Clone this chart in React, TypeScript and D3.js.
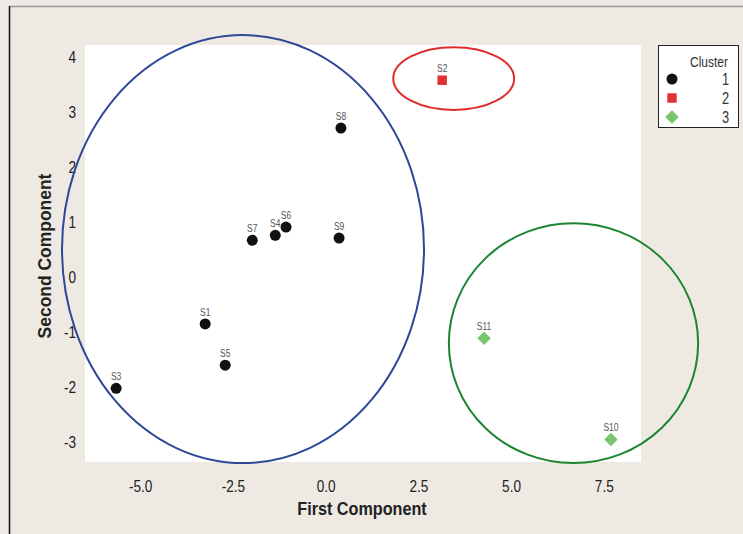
import React, { useEffect, useRef } from 'react'
import * as d3 from 'd3'

// observations (first component, second component, cluster)
const names = ['S1', 'S2', 'S3', 'S4', 'S5', 'S6', 'S7', 'S8', 'S9', 'S10', 'S11']
const firstComp = [-3.26, 3.13, -5.66, -1.37, -2.72, -1.08, -1.99, 0.4, 0.35, 7.68, 4.26]
const secondComp = [-0.85, 3.58, -2.02, 0.76, -1.6, 0.91, 0.67, 2.71, 0.71, -2.95, -1.11]
const cluster = [1, 2, 1, 1, 1, 1, 1, 1, 1, 3, 3]

// cluster ellipses: centre x, centre y, radius x, radius y (data units)
const ellipseCx = [-2.24, 3.44, 6.67]
const ellipseCy = [0.51, 3.61, -1.2]
const ellipseRx = [4.88, 1.63, 3.36]
const ellipseRy = [3.89, 0.57, 2.18]

const xTicks = [-5, -2.5, 0, 2.5, 5, 7.5]
const yTicks = [-3, -2, -1, 0, 1, 2, 3, 4]
const clusters = [1, 2, 3]

const W = 743
const H = 534
const font = "'Liberation Sans', Arial, sans-serif"

export default function App() {
  const ref = useRef<SVGSVGElement>(null)

  useEffect(() => {
    const svg = d3.select(ref.current)
    svg.selectAll('*').remove()

    const left = 85, right = 641, top = 45, bottom = 462

    const x = d3.scaleLinear().domain([-6.5, 8.49]).range([left, right])
    const y = d3.scaleLinear().domain([-3.36, 4.22]).range([bottom, top])

    // narrow text: squeeze horizontally
    function narrow(g: any, tx: number, ty: number, s: string, size: number, anchor: string, opts: any = {}) {
      return g.append('text')
        .attr('transform', 'translate(' + tx + ',' + ty + ')' + (opts.rotate ? ' rotate(-90)' : '') + ' scale(' + (opts.sx || 0.8) + ',1)')
        .attr('text-anchor', anchor)
        .attr('font-family', font)
        .attr('font-size', size)
        .attr('font-weight', opts.bold ? 'bold' : 'normal')
        .attr('fill', opts.fill || '#222')
        .text(s)
    }

    svg.append('rect').attr('width', W).attr('height', H).attr('fill', '#eeeae3')
    svg.append('line').attr('x1', 9).attr('x2', W).attr('y1', 6.5).attr('y2', 6.5)
      .attr('stroke', '#9a9a9a').attr('stroke-width', 1.5)
    svg.append('line').attr('x1', 9.5).attr('x2', 9.5).attr('y1', 6).attr('y2', H)
      .attr('stroke', '#111').attr('stroke-width', 1.5)

    svg.append('rect').attr('x', left).attr('y', top)
      .attr('width', right - left).attr('height', bottom - top).attr('fill', '#fff')

    // tick labels
    const fmt = (d: number) => d3.format('.1f')(d).replace('\u2212', '-')
    const xg = svg.append('g')
    xTicks.forEach(d => narrow(xg, x(d), 492, fmt(d), 17, 'middle'))
    const yg = svg.append('g')
    yTicks.forEach(d => narrow(yg, 76, y(d) + 6, String(d), 17, 'end'))

    narrow(svg, 362, 515, 'First Component', 18, 'middle', { bold: true, sx: 0.9 })
    narrow(svg, 51, 256, 'Second Component', 18, 'middle', { bold: true, sx: 0.97, rotate: true })

    const ellipseColor = ['#2f4797', '#e02b2b', '#1c8530']
    svg.append('g').selectAll('ellipse').data(ellipseCx).enter().append('ellipse')
      .attr('cx', d => x(d))
      .attr('cy', (d, i) => y(ellipseCy[i]))
      .attr('rx', (d, i) => x(ellipseRx[i]) - x(0))
      .attr('ry', (d, i) => y(0) - y(ellipseRy[i]))
      .attr('fill', 'none')
      .attr('stroke', (d, i) => ellipseColor[i])
      .attr('stroke-width', 2)

    const markerColor: Record<number, string> = { 1: '#111', 2: '#e03434', 3: '#78c46f' }
    const symbolType: Record<number, d3.SymbolType> = {
      1: d3.symbolCircle,
      2: d3.symbolSquare,
      3: d3.symbolSquare
    }
    const symbolSize: Record<number, number> = { 1: 95, 2: 90, 3: 90 }
    const rot: Record<number, number> = { 1: 0, 2: 0, 3: 45 }
    const sym = (c: number) => d3.symbol().type(symbolType[c]).size(symbolSize[c])()

    const pts = svg.append('g').selectAll('g').data(names).enter().append('g')
      .attr('transform', (d, i) => 'translate(' + x(firstComp[i]) + ',' + y(secondComp[i]) + ')')
    pts.append('path')
      .attr('d', (d, i) => sym(cluster[i]))
      .attr('transform', (d, i) => 'rotate(' + rot[cluster[i]] + ')')
      .attr('fill', (d, i) => markerColor[cluster[i]])
    pts.each(function (d) {
      narrow(d3.select(this), 0, -8, d, 10, 'middle', { fill: '#555', sx: 0.85 })
    })

    // legend
    svg.append('rect').attr('x', 658.5).attr('y', 45.5).attr('width', 80).attr('height', 82)
      .attr('fill', '#fff').attr('stroke', '#222').attr('stroke-width', 1)
    narrow(svg, 728, 67, 'Cluster', 15, 'end', { fill: '#333' })
    const lg = svg.append('g').selectAll('g').data(clusters).enter().append('g')
      .attr('transform', (d, i) => 'translate(0,' + (79 + i * 19) + ')')
    lg.append('path')
      .attr('transform', d => 'translate(672,0) rotate(' + rot[d] + ')')
      .attr('d', d => sym(d))
      .attr('fill', d => markerColor[d])
    lg.each(function (d) {
      narrow(d3.select(this), 729, 6, String(d), 16, 'end', { fill: '#333' })
    })
  }, [])

  return (
    <svg ref={ref} width={W} height={H} style={{ position: 'absolute', left: 0, top: 0 }} />
  )
}
